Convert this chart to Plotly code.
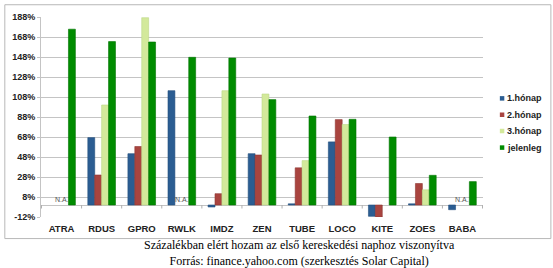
import plotly.graph_objects as go

categories = ["ATRA", "RDUS", "GPRO", "RWLK", "IMDZ", "ZEN", "TUBE", "LOCO", "KITE", "ZOES", "BABA"]
series_names = ["1.hónap", "2.hónap", "3.hónap", "jelenleg"]
honap1 = [None, 67.4, 51.3, 114.3, -2.0, 51.3, 1.2, 63.1, -11.3, 1.2, -4.7]
honap2 = [None, 30.0, 58.5, None, 11.3, 50.0, 37.2, 85.4, -12.0, 21.5, None]
honap3 = [None, 100.0, 187.3, None, 114.3, 111.0, 44.4, 80.5, None, 15.2, None]
jelenleg = [175.8, 163.4, 163.0, 147.7, 147.0, 105.4, 89.0, 85.7, 68.0, 29.7, 23.4]
na_categories = ["ATRA", "RWLK", "BABA"]
tick_values = [-12, 8, 28, 48, 68, 88, 108, 128, 148, 168, 188]
tick_labels = [f"{v}%" for v in tick_values]
caption = ["Százalékban elért hozam az első kereskedési naphoz viszonyítva",
           "Forrás: finance.yahoo.com (szerkesztés Solar Capital)"]

colors = ["#2b5d92", "#a9443f", "#d3e99b", "#008c00"]
edges = ["#244f7d", "#8f3834", "#bcd888", "#007400"]

# plot-area geometry helpers (pixels -> paper)
L, R, T, B, W, H = 37, 483, 13, 217, 553, 268
PW, PH = R - L, B - T
def px(x):
    return (x - L) / PW
def py(y):
    return (B - y) / PH

fig = go.Figure()
for name, vals, c, e in zip(series_names, [honap1, honap2, honap3, jelenleg], colors, edges):
    fig.add_trace(go.Bar(x=categories, y=vals, name=name,
                         marker=dict(color=c, line=dict(color=e, width=0.6)), showlegend=False))

for cat in na_categories:
    fig.add_annotation(x=cat, y=0, yanchor="bottom", text="N.A.", showarrow=False,
                       font=dict(family="Liberation Sans, Arial", size=7, color="#555"))

# small tick marks on the zero line at category boundaries
for i in range(len(categories) + 1):
    fig.add_shape(type="line", xref="x", yref="y", x0=i - 0.5, x1=i - 0.5, y0=0, y1=-3.5,
                  line=dict(color="#b0b0b0", width=1))

# legend (drawn manually to match compact spacing)
legend_rows = [96, 112.7, 129.3, 146.2]
for name, c, yrow in zip(series_names, colors, legend_rows):
    fig.add_shape(type="rect", xref="paper", yref="paper", x0=px(500), x1=px(504.5),
                  y0=py(yrow + 2.3), y1=py(yrow - 2.3), fillcolor=c, line=dict(width=0))
    fig.add_annotation(xref="paper", yref="paper", x=px(505.5), y=py(yrow), xanchor="left", yanchor="middle",
                       text=name, showarrow=False,
                       font=dict(family="Liberation Sans, Arial", size=9, weight="bold", color="#222"))

fig.add_annotation(xref="paper", yref="paper", x=px(298), y=py(253.5), text=caption[0] + "<br>" + caption[1],
                   showarrow=False, xanchor="center", yanchor="middle", align="center",
                   font=dict(family="Liberation Serif, Times New Roman", size=12, color="#000"))

# outer border
fig.add_shape(type="rect", xref="paper", yref="paper", x0=px(0.5), x1=px(551.5),
              y0=py(239), y1=py(0.5), line=dict(color="#b8b8b8", width=1))

fig.update_layout(
    width=W, height=H,
    margin=dict(l=L, r=W - R, t=T, b=H - B),
    paper_bgcolor="white", plot_bgcolor="white",
    barmode="group", bargap=0.31, bargroupgap=0,
    showlegend=False,
    font=dict(family="Liberation Sans, Arial", color="#222"),
    xaxis=dict(showgrid=False, showline=False, ticks="", tickfont=dict(size=9.5, weight="bold", color="#222"),
               ticklabelstandoff=4),
    yaxis=dict(range=[-12, 188], tickvals=tick_values, ticktext=tick_labels, showgrid=True,
               gridcolor="#c4c4c4", gridwidth=1, zeroline=True, zerolinecolor="#c4c4c4", zerolinewidth=1,
               showline=True, linecolor="#c4c4c4", ticks="outside", ticklen=3, tickcolor="#c4c4c4",
               tickfont=dict(size=9, weight="bold", color="#222")),
)

fig.write_html("out.html")
